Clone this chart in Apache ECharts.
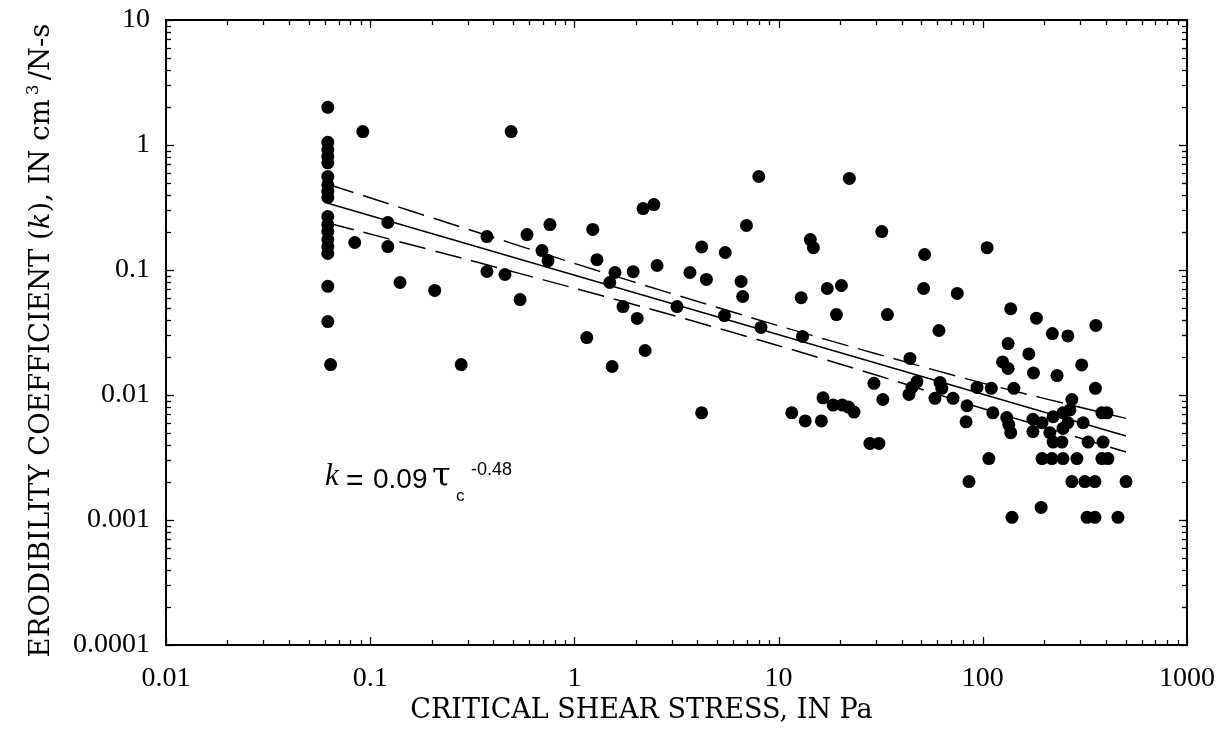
<!DOCTYPE html>
<html><head><meta charset="utf-8">
<script src="https://cdn.jsdelivr.net/npm/echarts@6.0.0/dist/echarts.min.js"></script>
<style>html,body{margin:0;padding:0;background:#fff}#c{width:1222px;height:748px}</style>
</head><body><div id="c"></div>
<script>
// ---- axis ticks ----
const xTickLabels = [0.01, 0.1, 1, 10, 100, 1000];
const yTickLabels = [0.0001, 0.001, 0.01, 0.1, 1, 10];

// ---- observations: critical shear stress (Pa) and erodibility coefficient (cm3/N-s) ----
const tau = [
  0.062,0.062,0.062,0.062,0.062,0.062,0.062,0.062,0.062,0.062,0.062,0.062,0.062,0.062,0.062,0.062,0.062,0.064,
  0.092,0.084,0.122,0.122,0.14,0.207,0.279,0.373,0.373,0.457,0.49,0.542,0.586,0.759,0.694,0.743,
  1.23,1.29,1.58,1.49,1.15,1.53,1.73,2.03,1.94,2.54,2.17,2.45,2.22,3.18,3.68,4.2,4.43,5.48,5.43,
  6.96,6.55,6.67,8.2,8.0,13.1,12.9,14.3,14.8,17.3,20.3,19.2,22.2,16.5,32,34.1,29.3,32.4,44,51.9,51.3,61,
  75,105,137,183,219,261,358,133,125,133,168,177,231,305,356,142,93.7,110,47.6,45,43.5,23.4,28,31,
  61.7,63,58.3,71.5,83.7,82.8,112,131,134,137,107,85.6,139,193,176,195,221,247,267,176,213,247,221,244,261,
  273,310,328,388,383,406,195,218,247,289,383,410,273,316,354,503,324,354,459,
  4.2,11.6,13.5,16.2,18.5,20.5,22
];
const kVal = [
  2.0,1.05,0.92,0.81,0.72,0.56,0.48,0.425,0.38,0.268,0.231,0.203,0.175,0.154,0.1355,0.074,0.0387,0.0175,
  1.28,0.166,0.24,0.154,0.0794,0.0686,0.0175,0.185,0.0973,0.092,1.28,0.058,0.192,0.231,0.143,0.119,
  0.211,0.121,0.0955,0.0794,0.0288,0.0169,0.051,0.041,0.097,0.1086,0.31,0.334,0.0227,0.051,0.0955,0.153,0.084,0.138,0.0432,
  0.227,0.081,0.0614,0.0347,0.56,0.0294,0.060,0.175,0.151,0.0711,0.0752,0.044,0.54,0.0095,0.203,0.044,0.0124,0.0092,0.0196,0.133,0.0711,0.0328,
  0.0649,0.151,0.049,0.0412,0.031,0.0297,0.036,0.0258,0.0184,0.0163,0.0213,0.015,0.0143,0.0174,0.0113,0.0113,0.0115,0.0113,0.0128,0.0115,0.0101,0.0073,0.0041,0.0041,
  0.0126,0.0113,0.0094,0.0094,0.0082,0.0061,0.0072,0.0066,0.0058,0.005,0.0031,0.00203,0.00105,0.00126,0.0064,0.006,0.0067,0.0072,0.0076,0.0051,0.005,0.0054,0.0042,0.0042,0.006,
  0.0092,0.006,0.0042,0.0042,0.0072,0.0072,0.0031,0.0031,0.0031,0.0031,0.0031,0.0031,0.00203,0.00203,0.00203,0.00203,0.00105,0.00105,0.00105,
  0.0072,0.0072,0.0062,0.0062,0.0083,0.0083,0.008
];

// ---- fitted line k = 0.09 tau^-0.48 (end points) and confidence bands ----
const fitTau = [0.062, 503];
const fitK = [0.342, 0.0047];
const bandTau = [0.062, 0.3, 1, 3, 10, 30, 100, 503];
const upperK = [0.485, 0.212, 0.113, 0.0647, 0.0358, 0.0214, 0.01245, 0.0065];
const lowerK = [0.238, 0.121, 0.0715, 0.0436, 0.0248, 0.01445, 0.0078, 0.0035];

const X_MIN = xTickLabels[0], X_MAX = xTickLabels[xTickLabels.length - 1];
const Y_MIN = yTickLabels[0], Y_MAX = yTickLabels[yTickLabels.length - 1];

function tickList(labels) {
  const out = [];
  labels.forEach((d, i) => {
    out.push([d, 8]);
    if (i < labels.length - 1) for (let m = 2; m <= 9; m++) out.push([+(d * m).toPrecision(3), 5]);
  });
  return out;
}
const xTicks = tickList(xTickLabels).map(t => [t[0], Y_MIN, t[1]]);
const yTicks = tickList(yTickLabels).map(t => [X_MIN, t[0], t[1]]);

const zip = (a, b) => a.map((v, i) => [v, b[i]]);
const fmt = v => String(+v.toPrecision(6));
const serif = 'Liberation Serif';
const titleFont = 'DejaVu Serif';
const sans = 'Liberation Sans';

const chart = echarts.init(document.getElementById('c'), null, {renderer: 'canvas'});
chart.setOption({
  animation: false,
  backgroundColor: '#fff',
  grid: {left: 166, top: 20, right: 35, bottom: 103, show: true, borderColor: '#000', borderWidth: 2, backgroundColor: 'transparent'},
  xAxis: {
    type: 'log', logBase: 10, min: X_MIN, max: X_MAX,
    axisLine: {show: false}, axisTick: {show: false}, splitLine: {show: false},
    axisLabel: {fontFamily: serif, fontSize: 28, color: '#000', margin: 20, formatter: fmt},
    name: 'CRITICAL SHEAR STRESS, IN Pa', nameLocation: 'middle', nameGap: 49,
    nameTextStyle: {fontFamily: titleFont, fontSize: 27, color: '#000', padding: [0, 70, 0, 0]}
  },
  yAxis: {
    type: 'log', logBase: 10, min: Y_MIN, max: Y_MAX,
    axisLine: {show: false}, axisTick: {show: false}, splitLine: {show: false},
    axisLabel: {fontFamily: serif, fontSize: 28, color: '#000', margin: 16, formatter: fmt},
    name: '{a|ERODIBILITY COEFFICIENT (}{i|k}{a|), IN cm}{s|3}{a|/N-s}', nameLocation: 'middle', nameGap: 107,
    nameTextStyle: {
      color: '#000', padding: [0, 16, 0, 0],
      rich: {
        a: {fontFamily: titleFont, fontSize: 27.5, color: '#000', lineHeight: 34},
        i: {fontFamily: titleFont, fontSize: 27.5, fontStyle: 'italic', color: '#000', lineHeight: 34},
        s: {fontFamily: titleFont, fontSize: 17, color: '#000', verticalAlign: 'top', lineHeight: 34, padding: [0, 4, 0, 4]}
      }
    }
  },
  graphic: [
    {type: 'text', left: 325, top: 461, style: {text: 'k', fontFamily: serif, fontStyle: 'italic', fontSize: 31, fill: '#000'}},
    {type: 'text', left: 346, top: 467, style: {text: '=', fontFamily: sans, fontSize: 30, fill: '#000'}},
    {type: 'text', left: 373, top: 466, style: {text: '0.09', fontFamily: sans, fontSize: 28, fill: '#000'}},
    {type: 'text', left: 432, top: 460, style: {text: 'τ', fontFamily: titleFont, fontSize: 34, fill: '#000'}},
    {type: 'text', left: 456, top: 488, style: {text: 'c', fontFamily: sans, fontSize: 17, fill: '#000'}},
    {type: 'text', left: 471, top: 461, style: {text: '-0.48', fontFamily: sans, fontSize: 18, fill: '#000'}}
  ],
  series: [
    {type: 'line', data: zip(fitTau, fitK), showSymbol: false, silent: true,
      lineStyle: {color: '#000', width: 1.5}, z: 3},
    {type: 'line', data: zip(bandTau, upperK), showSymbol: false, silent: true, smooth: 0.3,
      lineStyle: {color: '#000', width: 1.5, type: [27, 10]}, z: 3},
    {type: 'line', data: zip(bandTau, lowerK), showSymbol: false, silent: true, smooth: 0.3,
      lineStyle: {color: '#000', width: 1.5, type: [27, 10]}, z: 3},
    {type: 'scatter', data: zip(tau, kVal), symbol: 'circle', symbolSize: 13,
      itemStyle: {color: '#000', opacity: 1}, z: 4},
    {type: 'custom', data: xTicks, encode: {x: 0, y: 1}, silent: true, clip: false, z: 5,
      renderItem: (p, api) => {
        const v = api.value(0), len = api.value(2);
        const b = api.coord([v, Y_MIN]), t = api.coord([v, Y_MAX]);
        const x = Math.round(b[0]) + 0.5;
        return {type: 'group', children: [
          {type: 'line', shape: {x1: x, y1: b[1], x2: x, y2: b[1] - len}, style: {stroke: '#000', lineWidth: 1.3}},
          {type: 'line', shape: {x1: x, y1: t[1], x2: x, y2: t[1] + len}, style: {stroke: '#000', lineWidth: 1.3}}
        ]};
      }},
    {type: 'custom', data: yTicks, encode: {x: 0, y: 1}, silent: true, clip: false, z: 5,
      renderItem: (p, api) => {
        const v = api.value(1), len = api.value(2);
        const l = api.coord([X_MIN, v]), r = api.coord([X_MAX, v]);
        const y = Math.round(l[1]) + 0.5;
        return {type: 'group', children: [
          {type: 'line', shape: {x1: l[0], y1: y, x2: l[0] + len, y2: y}, style: {stroke: '#000', lineWidth: 1.3}},
          {type: 'line', shape: {x1: r[0], y1: y, x2: r[0] - len, y2: y}, style: {stroke: '#000', lineWidth: 1.3}}
        ]};
      }}
  ]
});
</script></body></html>
